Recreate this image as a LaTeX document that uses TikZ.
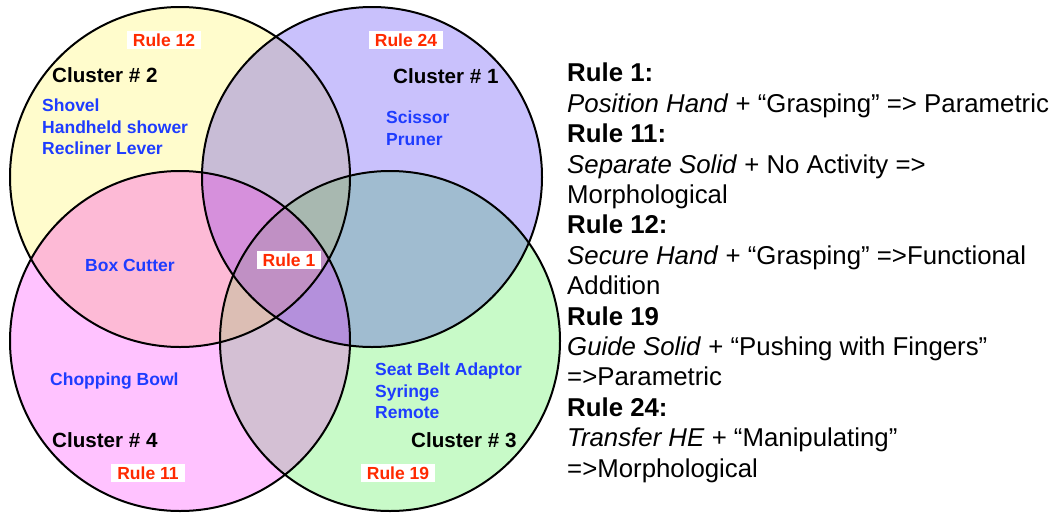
\documentclass[tikz,border=0pt]{standalone}
\usepackage{fontspec}
\setmainfont{Liberation Sans}
\definecolor{VDYellow}{HTML}{FFFCCC}
\definecolor{VDBlue}{HTML}{C9C1FC}
\definecolor{VDPink}{HTML}{FFC2FF}
\definecolor{VDGreen}{HTML}{C8FAC8}
\definecolor{VDYB}{HTML}{C8BCD6}
\definecolor{VDYP}{HTML}{FDBAD6}
\definecolor{VDYG}{HTML}{C8C8B0}
\definecolor{VDBP}{HTML}{C494DE}
\definecolor{VDBG}{HTML}{A0BCD0}
\definecolor{VDPG}{HTML}{D4C0D4}
\definecolor{VDYBP}{HTML}{D690DC}
\definecolor{VDYBG}{HTML}{A8B8B0}
\definecolor{VDYPG}{HTML}{DCBEB4}
\definecolor{VDBPG}{HTML}{B490DC}
\definecolor{VDAll}{HTML}{C090C4}
\definecolor{VDItem}{HTML}{1E3CFF}
\definecolor{VDRed}{HTML}{FF2A00}
\begin{document}
\begin{tikzpicture}[x=1pt,y=-1pt,
  clusterset/.style={circle,draw=black,line width=2pt,minimum size=340pt,inner sep=0pt},
  clusterlabel/.style={anchor=base west,inner sep=0pt,font=\bfseries\fontsize{20.6}{24}\selectfont},
  items/.style={anchor=west,align=left,inner sep=0pt,text=VDItem,font=\bfseries\fontsize{17.5}{21.5}\selectfont},
  rulebox/.style={fill=white,text=VDRed,inner xsep=6pt,inner ysep=2.5pt,font=\bfseries\fontsize{17.5}{20}\selectfont}]
\path[use as bounding box] (0,0) rectangle (1055,512);
\coordinate (cy) at (180,177);
\coordinate (cb) at (372,177);
\coordinate (cp) at (180,341);
\coordinate (cg) at (390,341);
\foreach \a/\col in {cy/VDYellow,cb/VDBlue,cp/VDPink,cg/VDGreen}
  \fill[\col] (\a) circle (170pt);
\foreach \a/\b/\col in {cy/cb/VDYB,cy/cp/VDYP,cy/cg/VDYG,cb/cp/VDBP,cb/cg/VDBG,cp/cg/VDPG}
  {\begin{scope}
   \clip (\a) circle (170pt);
   \fill[\col] (\b) circle (170pt);
   \end{scope}}
\foreach \a/\b/\c/\col in {cy/cb/cp/VDYBP,cy/cb/cg/VDYBG,cy/cp/cg/VDYPG,cb/cp/cg/VDBPG}
  {\begin{scope}
   \clip (\a) circle (170pt);
   \clip (\b) circle (170pt);
   \fill[\col] (\c) circle (170pt);
   \end{scope}}
\begin{scope}
\clip (cy) circle (170pt);
\clip (cb) circle (170pt);
\clip (cp) circle (170pt);
\fill[VDAll] (cg) circle (170pt);
\end{scope}
\node[clusterset] (c2) at (cy) {};
\node[clusterset] (c1) at (cb) {};
\node[clusterset] (c4) at (cp) {};
\node[clusterset] (c3) at (cg) {};
\node[clusterlabel] (l2) at (52,82) {Cluster \# 2};
\node[clusterlabel] (l1) at (393,83) {Cluster \# 1};
\node[clusterlabel] (l4) at (52,447) {Cluster \# 4};
\node[clusterlabel] (l3) at (411,447) {Cluster \# 3};
\node[items] (i2) at (42,127) {Shovel\\Handheld shower\\Recliner Lever};
\node[items] (i1) at (386,128) {Scissor\\Pruner};
\node[items] (i24) at (85,265) {Box Cutter};
\node[items] (i4) at (50,381) {Chopping Bowl};
\node[items] (i3) at (375,391) {Seat Belt Adaptor\\Syringe\\Remote};
\node[rulebox] (r12) at (164,40) {Rule 12};
\node[rulebox] (r24) at (406,40) {Rule 24};
\node[rulebox] (r1) at (289,260) {Rule 1};
\node[rulebox] (r11) at (148,473) {Rule 11};
\node[rulebox] (r19) at (398,473) {Rule 19};
\node[anchor=north west,align=left,inner sep=0pt,font=\fontsize{25.8}{30.4}\selectfont] (rules) at (567,63)
  {\textbf{Rule 1:}\\
   \textit{Position Hand} + “Grasping” => Parametric\\
   \textbf{Rule 11:}\\
   \textit{Separate Solid} + No Activity =>\\
   Morphological\\
   \textbf{Rule 12:}\\
   \textit{Secure Hand} + “Grasping” =>Functional\\
   Addition\\
   \textbf{Rule 19}\\
   \textit{Guide Solid} + “Pushing with Fingers”\\
   =>Parametric\\
   \textbf{Rule 24:}\\
   \textit{Transfer HE} + “Manipulating”\\
   =>Morphological};
\end{tikzpicture}
\end{document}
